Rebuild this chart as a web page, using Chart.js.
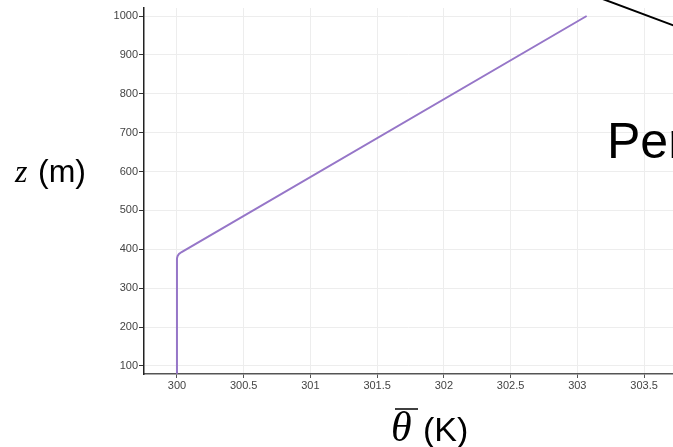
<!DOCTYPE html>
<html>
<head>
<meta charset="utf-8">
<script src="https://cdn.jsdelivr.net/npm/chart.js@4"></script>
<style>
  body { margin: 0; background: #fff; }
  #wrap { width: 673px; height: 447px; }
</style>
</head>
<body>
<div id="wrap"><canvas id="profile" width="673" height="447"></canvas></div>
<script>
// potential temperature profile (theta in K, height z in m)
const thetaVals = [300, 300, 300.005, 300.015, 300.035, 303.07];
const zVals = [80, 377, 383, 388, 393, 1000];
const xTicks = [300, 300.5, 301, 301.5, 302, 302.5, 303, 303.5];
const yTicks = [100, 200, 300, 400, 500, 600, 700, 800, 900, 1000];

const points = thetaVals.map(function (t, i) { return { x: t, y: zVals[i] }; });

const labelPlugin = {
    id: 'labels',
    afterDraw: function (chart) {
        const ctx = chart.ctx;
        ctx.save();
        ctx.fillStyle = '#000';
        ctx.textBaseline = 'alphabetic';
        ctx.textAlign = 'left';

        // y title: z (m)
        ctx.font = 'italic 32px "Liberation Serif"';
        ctx.fillText('z', 15, 182);
        ctx.font = '32px "Liberation Sans"';
        ctx.fillText('(m)', 38, 182);

        // x title: theta bar (K)
        ctx.font = 'italic 42px "Liberation Serif"';
        ctx.fillText('θ', 391, 441);
        ctx.strokeStyle = '#000';
        ctx.lineWidth = 1.5;
        ctx.beginPath();
        ctx.moveTo(395, 409);
        ctx.lineTo(418, 409);
        ctx.stroke();
        ctx.font = '34px "Liberation Sans"';
        ctx.fillText('(K)', 423, 441);

        // annotation pieces at the right edge
        ctx.font = '50px "Liberation Sans"';
        ctx.fillText('Per', 607, 158);
        ctx.lineWidth = 2;
        ctx.beginPath();
        ctx.moveTo(600, -2);
        ctx.lineTo(675, 26);
        ctx.stroke();
        ctx.restore();
    }
};

new Chart("profile",
    {
        type: "scatter",
        data: {
            datasets: [{
                data: points,
                showLine: true,
                borderColor: "rgb(150, 118, 200)",
                borderWidth: 2,
                pointRadius: 0,
                tension: 0,
            }]
        },
        options: {
            responsive: false,
            animation: false,
            devicePixelRatio: 1,
            layout: { padding: { top: 8, right: 0, left: 0, bottom: 0 } },
            plugins: {
                legend: { display: false },
                tooltip: { enabled: false },
            },
            scales: {
                x: {
                    type: 'linear',
                    min: 299.753,
                    max: 303.717,
                    afterFit: function (scale) { scale.height = 73; },
                    afterBuildTicks: function (scale) {
                        scale.ticks = xTicks.map(function (v) { return { value: v }; });
                    },
                    grid: {
                        color: '#ededed',
                        tickColor: '#555',
                        tickLength: 4,
                    },
                    border: { display: true, color: '#555', width: 1.5 },
                    ticks: {
                        padding: 1,
                        maxRotation: 0,
                        autoSkip: false,
                        color: '#444',
                        font: { size: 11, family: 'Liberation Sans' },
                        callback: function (v) { return String(v); },
                    }
                },
                y: {
                    type: 'linear',
                    min: 79.4,
                    max: 1020.6,
                    afterFit: function (scale) { scale.width = 144; },
                    afterBuildTicks: function (scale) {
                        scale.ticks = yTicks.map(function (v) { return { value: v }; });
                    },
                    grid: {
                        color: '#ededed',
                        tickColor: '#333',
                        tickLength: 5,
                    },
                    border: { display: true, color: '#222', width: 1.5 },
                    ticks: {
                        padding: 1,
                        color: '#444',
                        font: { size: 11, family: 'Liberation Sans' },
                        callback: function (v) { return String(v); },
                    }
                }
            }
        },
        plugins: [labelPlugin]
    }
);
</script>
</body>
</html>
